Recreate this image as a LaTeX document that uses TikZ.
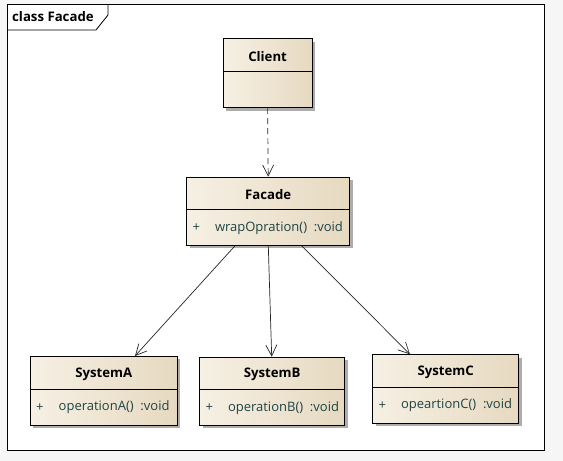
\documentclass[tikz,border=0pt]{standalone}
\usepackage{fontspec}
\setmainfont{Open Sans}
\usetikzlibrary{arrows.meta,shadows}
\definecolor{cA}{HTML}{F6F0E4}
\definecolor{cB}{HTML}{E6D9C0}
\definecolor{attrc}{HTML}{1F4444}
\definecolor{bgc}{HTML}{F6F6F6}
\begin{document}
\begin{tikzpicture}[x=1pt,y=-1pt,
  cls/.style={draw=black, line width=0.8pt, left color=cA, right color=cB, inner sep=0pt, anchor=north west,
    drop shadow={shadow xshift=3pt, shadow yshift=-3pt, fill=black!32, opacity=1}},
  ttl/.style={font=\fontsize{13.2}{15}\selectfont\bfseries, inner sep=0pt},
  attr/.style={font=\fontsize{13}{15}\selectfont, text=attrc, inner sep=0pt, anchor=west},
  arr/.style={draw=black!85, line width=0.7pt, -{Straight Barb[length=11pt,width=11pt,line width=0.7pt]}},
]
\useasboundingbox (0,0) rectangle (563,461);
\fill[bgc] (0,0) rectangle (563,461);
\node[draw=black, line width=0.8pt, fill=white, anchor=north west, minimum width=536.5, minimum height=446, inner sep=0pt] (frame) at (7,4) {};
\coordinate (tb) at ([yshift=-26pt]frame.north west);
\draw[line width=0.8pt] (tb) -- ++(89,0) -- ++(12,-15) -- ++(0,-11);
\node[ttl, anchor=west] (frameTitle) at ([xshift=5pt,yshift=-13pt]frame.north west) {class Facade};

% Client
\node[cls, minimum width=89, minimum height=69] (C) at (222.7,38.3) {};
\draw[line width=0.8pt] ([yshift=-33pt]C.north west) -- ([yshift=-33pt]C.north east);
\node[ttl] (Ct) at ([yshift=-18pt]C.north) {Client};

% Facade
\node[cls, minimum width=163, minimum height=68.3] (F) at (186.3,176.7) {};
\draw[line width=0.8pt] ([yshift=-33pt]F.north west) -- ([yshift=-33pt]F.north east);
\node[ttl] (Ft) at ([yshift=-18pt]F.north) {Facade};
\node[attr] (Fp) at ([xshift=6pt,yshift=-51pt]F.north west) {+};
\node[attr] (Fa) at ([xshift=28.5pt,yshift=-51pt]F.north west) {wrapOpration()\ \ :void};

% SystemA
\node[cls, minimum width=146.7, minimum height=69] (A) at (30,356) {};
\draw[line width=0.8pt] ([yshift=-33.3pt]A.north west) -- ([yshift=-33.3pt]A.north east);
\node[ttl] (At) at ([yshift=-18pt]A.north) {SystemA};
\node[attr] (Ap) at ([xshift=6pt,yshift=-51.5pt]A.north west) {+};
\node[attr] (Aa) at ([xshift=28.5pt,yshift=-51.5pt]A.north west) {operationA()\ \ :void};

% SystemB
\node[cls, minimum width=145, minimum height=68.3] (B) at (199.3,356.7) {};
\draw[line width=0.8pt] ([yshift=-33pt]B.north west) -- ([yshift=-33pt]B.north east);
\node[ttl] (Bt) at ([yshift=-18pt]B.north) {SystemB};
\node[attr] (Bp) at ([xshift=6pt,yshift=-51pt]B.north west) {+};
\node[attr] (Ba) at ([xshift=28.5pt,yshift=-51pt]B.north west) {operationB()\ \ :void};

% SystemC
\node[cls, minimum width=146, minimum height=68.4] (Cs) at (372.3,354.3) {};
\draw[line width=0.8pt] ([yshift=-33pt]Cs.north west) -- ([yshift=-33pt]Cs.north east);
\node[ttl] (Cst) at ([yshift=-18pt]Cs.north) {SystemC};
\node[attr] (Csp) at ([xshift=6pt,yshift=-51pt]Cs.north west) {+};
\node[attr] (Csa) at ([xshift=28.5pt,yshift=-51pt]Cs.north west) {opeartionC()\ \ :void};

% connectors
\draw[arr, dash pattern=on 6pt off 4pt] (C.south) -- (F.north);
\draw[arr] ([xshift=48.7pt]F.south west) -- ([xshift=105pt]A.north west);
\draw[arr] ([xshift=82pt]F.south west) -- ([xshift=72.4pt]B.north west);
\draw[arr] ([xshift=115.4pt]F.south west) -- ([xshift=37.7pt]Cs.north west);
\end{tikzpicture}
\end{document}
